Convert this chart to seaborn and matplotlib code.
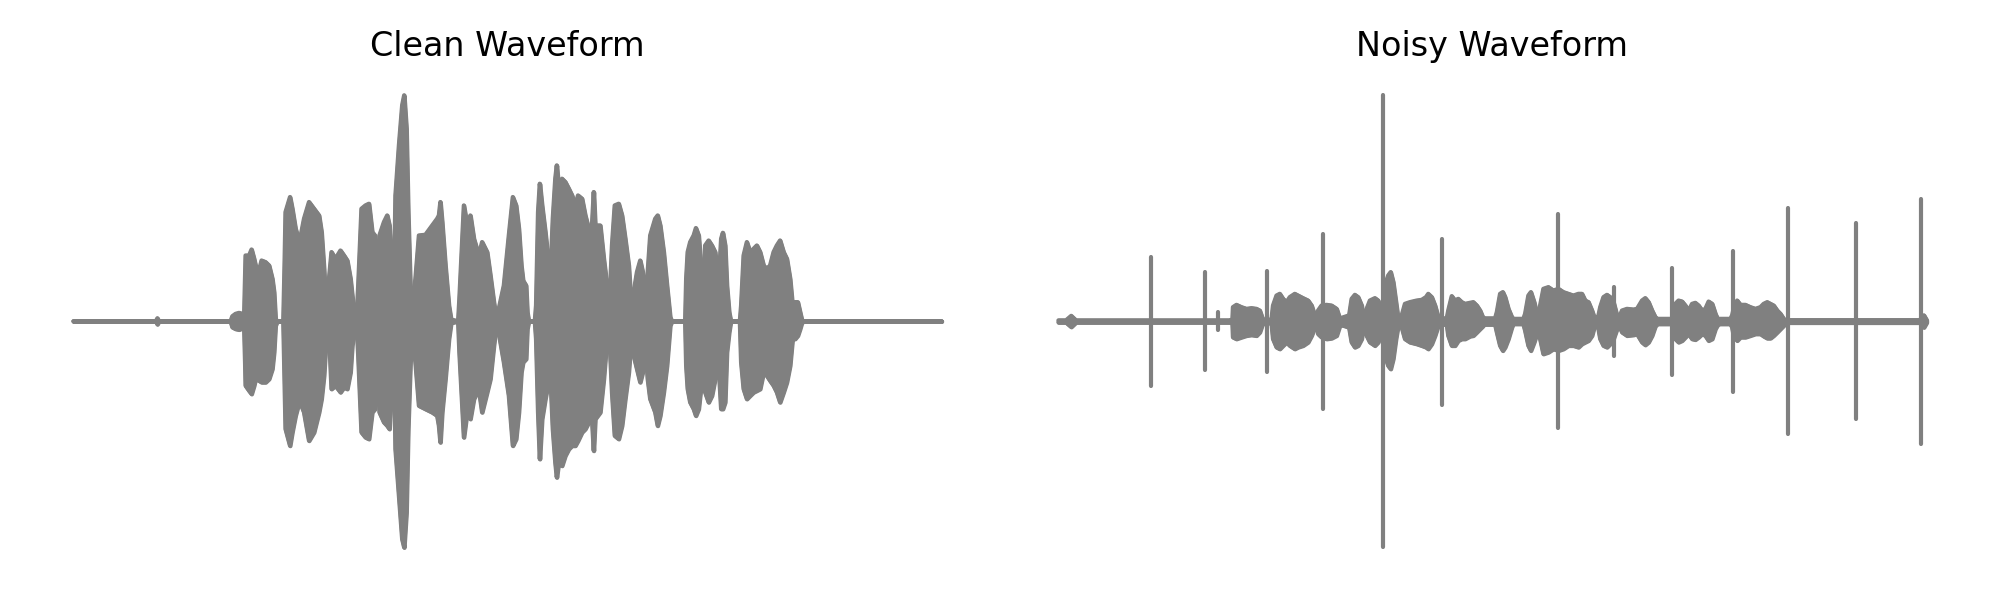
import matplotlib
matplotlib.use("Agg")
import matplotlib.pyplot as plt
import numpy as np
import pandas as pd
import seaborn as sns

# ---------------- data (time in ms, amplitude in int16-like sample units) ----------------
titles = ["Clean Waveform", "Noisy Waveform"]

clean_t = [0, 330, 336, 342, 629, 636, 649, 663, 676, 683, 687, 689, 703, 713, 723, 729, 743, 753, 769, 783,
           796, 803, 809, 816, 840, 845, 849, 867, 876, 889, 905, 923, 943, 963, 983, 993, 1003, 1012, 1019,
           1023, 1033, 1049, 1069, 1083, 1096, 1109, 1116, 1127, 1133, 1140, 1153, 1169, 1183,
           1196, 1207, 1213, 1219, 1225, 1243, 1256, 1265, 1276, 1283, 1289, 1303, 1316, 1324, 1333, 1340,
           1349, 1356, 1369, 1383, 1409, 1436, 1456, 1463, 1469, 1476, 1489, 1503, 1512, 1540, 1545, 1563,
           1576, 1589, 1603, 1623, 1636, 1656, 1669, 1683, 1692, 1700, 1723, 1743, 1759, 1772, 1783, 1793,
           1800, 1812, 1817, 1823, 1847, 1852, 1860, 1867, 1876, 1889, 1909, 1919, 1929, 1935, 1943, 1956,
           1969, 1983, 1996, 2009, 2020, 2036, 2049, 2063, 2076, 2083, 2089, 2109, 2123, 2136, 2145, 2156,
           2167, 2183, 2196, 2209, 2223, 2233, 2243, 2256, 2269, 2279, 2289, 2299, 2309, 2329, 2339, 2349,
           2363, 2376, 2389, 2396,
           2449, 2453, 2459, 2469, 2483, 2492, 2503, 2516, 2523, 2529, 2543, 2556, 2569, 2583, 2593, 2600,
           2609, 2616, 2625, 2632, 2668, 2673, 2683, 2696, 2709, 2723, 2736, 2749, 2763, 2776, 2789, 2803,
           2816, 2829, 2843, 2856, 2869, 2879, 2889, 2900, 2909, 2916, 2923, 3476]
clean_upper = [0, 0, 300, 0, 0, 500, 740, 840, 740, 300, 4240, 6570, 6570, 7170, 6240, 5570, 5070, 6070, 5910, 5570,
               4240, 2910, 240, 0, 0, 5570, 10910, 12410, 11240, 9240, 7910, 10240, 11910, 11240, 10570, 8910, 5240, 1240, 170,
               4240, 6910, 6240, 7070, 6570, 6070, 4240, 2570, 240, 0, 3570, 11240, 11570, 11740,
               8910, 8570, 3570, 2910, 8570, 9910, 10570, 9570, 5570, 2910, 12570, 17570, 21570, 22570, 19240, 10910,
               3240, 1240, 4240, 8570, 8640, 9570, 10240, 10570, 11910, 9910, 5570, 1570, 170, 0, 2240, 11570,
               9570, 10570, 8240, 6570, 7910, 6910, 4570, 1910, 410, 910, 3570, 8570, 12410, 11570, 9240, 5570,
               4070, 3570, 910, 0, 0, 1570, 10910, 13740, 11570, 8910, 4240, 10240, 14240, 15570, 13240, 14240,
               13910, 13240, 12570, 11570, 12570, 12240, 10570, 9240, 9570, 12910, 9570, 9570, 6240, 3570, 1240, 7570,
               11570, 11740, 10570, 8240, 5570, 1570, 2910, 4910, 6070, 4910, 2570, 4910, 8570, 10240, 10570, 9570,
               6910, 3570, 410, 0,
               0, 4240, 6910, 7910, 8570, 9310, 8570, 4240, 3570, 7570, 8070, 7570, 6910, 3570, 8240, 8840,
               7570, 3570, 910, 0, 0, 1570, 6570, 7910, 6910, 7240, 7570, 6910, 5570, 5240, 5570, 6910,
               7570, 8070, 6910, 6240, 4240, 1570, 1910, 1910, 910, 170, 0, 0]
clean_lower = [0, 0, -300, 0, 0, -590, -760, -830, -700, -360, -4090, -6430, -6930, -7260, -6430, -5760, -5930, -6090, -6090, -5760,
               -4760, -3090, -430, 0, 0, -5760, -10760, -12430, -11090, -9430, -7930, -9090, -11930, -11090, -9090, -7760, -5430, -1760, -260,
               -1090, -6760, -6430, -7090, -6590, -6760, -5090, -2430, -430, 0, -3430, -11090, -11590, -11760,
               -9090, -8760, -3090, -2430, -9090, -10090, -10430, -10760, -5760, -2430, -12760, -17430, -21760, -22590, -19090, -10760,
               -4090, -1430, -4090, -8430, -8760, -9090, -9430, -10430, -12090, -9090, -5760, -1760, -160, 0, -3090, -11590,
               -9090, -9760, -7760, -6760, -9090, -7090, -5760, -2430, -590, -760, -4090, -7430, -12430, -11760, -9090, -5090,
               -4090, -3760, -760, 0, 0, -1760, -9090, -13760, -9760, -7760, -5090, -10760, -14090, -15590, -14090, -14430,
               -13430, -12760, -12430, -12430, -11930, -11090, -10760, -10090, -9760, -12930, -9760, -9090, -5760, -1760, -1090, -7090,
               -11430, -11760, -10430, -7760, -5090, -1760, -3430, -4760, -6090, -5090, -2090, -5760, -7760, -9090, -10430, -9430,
               -7090, -4430, -430, 0,
               0, -4430, -6760, -8090, -8760, -9430, -8760, -5760, -5090, -7090, -8090, -7430, -5760, -4430, -8760, -8760,
               -8090, -3090, -1090, 0, 0, -4090, -6760, -7760, -7430, -7090, -6930, -6760, -5090, -5430, -5930, -6430,
               -7090, -8090, -7090, -6090, -4430, -1760, -1760, -1430, -760, -160, 0, 0]

noisy_t = [0, 30, 51, 70, 690, 695, 697, 711, 731, 751, 771, 791, 804, 813, 820, 851, 857, 871, 884, 897,
           911, 924, 944, 957, 977, 997, 1011, 1024, 1031, 1037, 1051, 1071, 1091, 1111, 1124, 1131, 1161, 1171,
           1184, 1197, 1211, 1217, 1224, 1231, 1244, 1264, 1277, 1287, 1291, 1304, 1317, 1327, 1337, 1348, 1357,
           1364, 1371, 1384, 1404, 1431, 1451, 1468, 1477, 1491, 1504, 1517, 1524, 1551, 1557, 1571, 1584, 1597,
           1611, 1624, 1644, 1657, 1671, 1684, 1695, 1700, 1744, 1751, 1764, 1775, 1784, 1797, 1811, 1817, 1857,
           1864, 1877, 1887, 1900, 1913, 1920, 1924, 1937, 1957, 1977, 1997, 2017, 2037, 2057, 2077, 2091, 2104,
           2117, 2131, 2140, 2148, 2157, 2164, 2177, 2191, 2204, 2217, 2231, 2240, 2251, 2271, 2297, 2311, 2331,
           2344, 2357, 2371, 2384, 2393, 2451, 2460, 2464, 2477, 2491, 2504, 2517, 2531, 2544, 2557, 2571, 2584,
           2597, 2611, 2624, 2633, 2641, 2684, 2691, 2697, 2711, 2724, 2744, 2764, 2784, 2804, 2817, 2831, 2844,
           2857, 2871, 2884, 2897, 2904, 3440, 3457, 3468]
noisy_upper = [100, 100, 550, 100, 100, 300, 1420, 1650, 1420, 1250, 1320, 1250, 1080, 420, 100, 200, 1580, 2580, 2750, 2250,
               1920, 2420, 2750, 2580, 2320, 2080, 1580, 580, 300, 1080, 1580, 1650, 1580, 1250, 250, 350, 600, 2250,
               2650, 2420, 1580, 580, 500, 1250, 2080, 2320, 2080, 1250, 600, 3580, 4580, 4920, 3920, 1920, 250,
               300, 580, 1750, 1920, 2080, 2150, 2420, 2750, 2420, 1580, 420, 300, 300, 1080, 2520, 2080, 2250,
               1920, 1750, 1850, 1920, 1580, 1080, 420, 300, 300, 920, 2750, 2920, 2420, 1250, 420, 250, 250,
               750, 2580, 2920, 1920, 580, 500, 1580, 3250, 3420, 3080, 3250, 2920, 2750, 2580, 2750, 2750, 2080,
               1920, 1080, 420, 300, 580, 1420, 2420, 2650, 2420, 1920, 580, 400, 1080, 1250, 1180, 1250, 2080,
               2320, 1920, 1080, 420, 250, 250, 500, 1750, 2080, 1980, 1580, 1080, 1750, 1850, 1580, 1080, 1250,
               1980, 1750, 750, 250, 250, 250, 600, 1250, 2080, 1650, 1650, 1420, 1250, 1420, 1750, 1920, 1750,
               1580, 1080, 750, 250, 120, 120, 600, 120]
noisy_lower = [-100, -100, -550, -100, -100, -300, -1580, -1750, -1580, -1420, -1350, -1420, -1080, -420, -100, -200, -1750, -2580, -2750, -2420,
               -2080, -2420, -2750, -2580, -2420, -2080, -1420, -580, -300, -1250, -1580, -1750, -1680, -1420, -420, -350, -600, -2080,
               -2580, -2420, -1750, -750, -500, -1420, -2080, -2420, -2080, -1420, -600, -3420, -4420, -4750, -3750, -1750, -420,
               -300, -580, -1750, -2080, -2250, -2420, -2580, -2750, -2250, -1420, -420, -300, -300, -1420, -2420, -2420, -1920,
               -1750, -1750, -1480, -1420, -1080, -750, -480, -300, -300, -1080, -2420, -2920, -2580, -1750, -580, -250, -250,
               -920, -2420, -2920, -2080, -1080, -500, -1750, -3250, -3080, -2750, -2920, -2750, -2420, -2420, -2580, -2250, -2080,
               -1920, -1420, -580, -300, -750, -1750, -2420, -2580, -2250, -1750, -750, -400, -1080, -1420, -1350, -1250, -2080,
               -2350, -2080, -1420, -480, -250, -250, -500, -1750, -2080, -1920, -1580, -1250, -1750, -1820, -1580, -1250, -1420,
               -1920, -1750, -750, -350, -250, -250, -600, -1420, -1920, -1580, -1580, -1420, -1250, -1250, -1480, -1680, -1680,
               -1420, -1080, -750, -420, -120, -120, -600, -120]

spike_t = [368, 585, 637, 833, 1057, 1297, 1532, 1997, 2221, 2453, 2693, 2913, 3185, 3444]
spike_upper = [6430, 4900, 900, 5020, 8730, 22585, 8270, 10720, 3480, 5360, 7010, 11330, 9800, 12250]
spike_lower = [-6470, -4860, -900, -5050, -8770, -22585, -8310, -10680, -3480, -5360, -7040, -11290, -9760, -12250]

# ---------------- plotting ----------------
sns.set_style("white")
plt.rcParams["font.family"] = ["DejaVu Sans"]
wave_color = "#808080"

fig, axes = plt.subplots(1, 2, figsize=(10, 3), dpi=200)

envelopes = [
    (clean_t, clean_upper, clean_lower, None),
    (noisy_t, noisy_upper, noisy_lower, (spike_t, spike_upper, spike_lower)),
]

for ax, title, (t, up, lo, spikes) in zip(axes, titles, envelopes):
    df = pd.DataFrame({"time": t, "upper": up, "lower": lo})
    ax.fill_between(df["time"], df["lower"], df["upper"], color=wave_color,
                    edgecolor=wave_color, linewidth=1.5, joinstyle="round")
    sns.lineplot(data=df, x="time", y="upper", ax=ax, color=wave_color, linewidth=1.5,
                 estimator=None, sort=False, solid_capstyle="round")
    sns.lineplot(data=df, x="time", y="lower", ax=ax, color=wave_color, linewidth=1.5,
                 estimator=None, sort=False, solid_capstyle="round")
    if spikes is not None:
        st, su, sl = spikes
        ax.vlines(st, sl, su, color=wave_color, linewidth=1.5, capstyle="round")
    ax.set_title(title, fontsize=12, color="black")
    ax.axis("off")

fig.tight_layout()
fig.savefig("out.png", dpi=200)
